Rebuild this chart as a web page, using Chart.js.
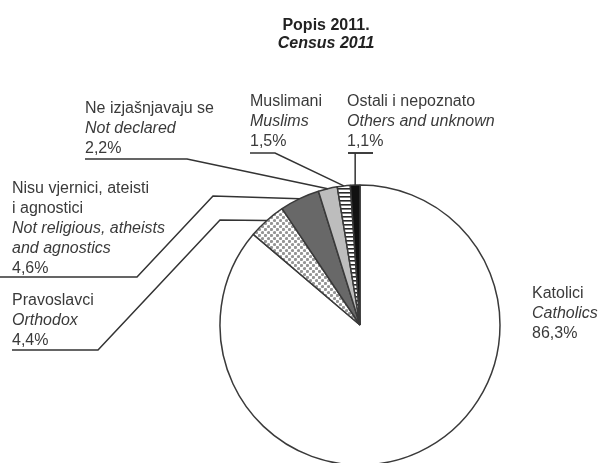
<!DOCTYPE html>
<html>
<head>
<meta charset="utf-8">
<script src="https://cdn.jsdelivr.net/npm/chart.js@4.4.1/dist/chart.umd.min.js"></script>
<style>
  html, body { margin: 0; padding: 0; background: #fff; }
  #wrap { width: 601px; height: 463px; }
</style>
</head>
<body>
<div id="wrap"><canvas id="religion" width="601" height="463"></canvas></div>
<script>
// Popis 2011. / Census 2011 - stanovnistvo prema vjeri
const categories = ['Katolici', 'Pravoslavci', 'Nisu vjernici, ateisti i agnostici', 'Ne izjašnjavaju se', 'Muslimani', 'Ostali i nepoznato'];
const shares = [86.3, 4.4, 4.6, 2.2, 1.5, 1.1];
const shareLabels = ['86,3%', '4,4%', '4,6%', '2,2%', '1,5%', '1,1%'];

// label text as it is broken into lines (hr upright, en italic)
const labelsHr = [['Katolici'], ['Pravoslavci'], ['Nisu vjernici, ateisti', 'i agnostici'], ['Ne izjašnjavaju se'], ['Muslimani'], ['Ostali i nepoznato']];
const labelsEn = [['Catholics'], ['Orthodox'], ['Not religious, atheists', 'and agnostics'], ['Not declared'], ['Muslims'], ['Others and unknown']];

const FONT = '"Liberation Sans", Arial, sans-serif';
const TEXT = '#3a3a3a';
const LINE_H = 20;

// where each label block sits and how its leader line bends
const labelLayout = [
  { x: 532, y: 298 },
  { x: 12, y: 305, line: [[12, 350], [98, 350], [220, 220]] },
  { x: 12, y: 193, line: [[0, 277], [137, 277], [213, 196]] },
  { x: 85, y: 113, line: [[85, 159], [187, 159]] },
  { x: 250, y: 106, line: [[250, 153], [275, 153]] },
  { x: 347, y: 106, line: [[348, 153], [373, 153]], drop: true }
];

const canvas = document.getElementById('religion');
const ctx = canvas.getContext('2d');

const makePattern = (w, h, paint) => {
  const c = document.createElement('canvas');
  c.width = w;
  c.height = h;
  const g = c.getContext('2d');
  g.fillStyle = '#fff';
  g.fillRect(0, 0, w, h);
  paint(g);
  return ctx.createPattern(c, 'repeat');
};

const dots = makePattern(6, 6, g => {
  g.fillStyle = '#959595';
  g.beginPath(); g.arc(1.5, 1.5, 1.6, 0, Math.PI * 2); g.fill();
  g.beginPath(); g.arc(4.5, 4.5, 1.6, 0, Math.PI * 2); g.fill();
});

const stripes = makePattern(4, 4, g => {
  g.fillStyle = '#2a2a2a';
  g.fillRect(0, 0, 4, 1.6);
});

const labelPlugin = {
  id: 'labelPlugin',
  afterDraw(chart) {
    const c = chart.ctx;
    const arcs = chart.getDatasetMeta(0).data;
    c.save();

    // title
    c.fillStyle = '#222';
    c.textAlign = 'center';
    c.textBaseline = 'alphabetic';
    c.font = 'bold 16px ' + FONT;
    c.fillText('Popis 2011.', 326, 30);
    c.font = 'italic bold 16px ' + FONT;
    c.fillText('Census 2011', 326, 48);

    c.textAlign = 'left';
    labelLayout.forEach((lay, i) => {
      let y = lay.y;
      c.fillStyle = TEXT;
      c.font = '16px ' + FONT;
      labelsHr[i].forEach(t => { c.fillText(t, lay.x, y); y += LINE_H; });
      c.font = 'italic 16px ' + FONT;
      labelsEn[i].forEach(t => { c.fillText(t, lay.x, y); y += LINE_H; });
      c.font = '16px ' + FONT;
      c.fillText(shareLabels[i], lay.x, y);

      if (!lay.line) return;
      const arc = arcs[i];
      const mid = (arc.startAngle + arc.endAngle) / 2;
      const ex = arc.x + Math.cos(mid) * arc.outerRadius;
      const ey = arc.y + Math.sin(mid) * arc.outerRadius;
      const pts = lay.line.slice();
      if (lay.drop) {
        pts.push([ex, lay.line[0][1]]);
      }
      c.strokeStyle = '#333';
      c.lineWidth = 1.5;
      c.beginPath();
      c.moveTo(pts[0][0], pts[0][1]);
      for (let k = 1; k < pts.length; k++) c.lineTo(pts[k][0], pts[k][1]);
      c.lineTo(ex, ey);
      c.stroke();
      if (lay.drop) {
        c.beginPath();
        c.moveTo(lay.line[0][0], lay.line[0][1]);
        c.lineTo(lay.line[1][0], lay.line[1][1]);
        c.stroke();
      }
    });
    c.restore();
  }
};

new Chart(canvas, {
  type: 'pie',
  data: {
    labels: categories,
    datasets: [{
      data: shares,
      backgroundColor: ['#ffffff', dots, '#686868', '#bdbdbd', stripes, '#111111'],
      borderColor: '#3a3a3a',
      borderWidth: 1.5,
      radius: 140
    }]
  },
  options: {
    responsive: false,
    devicePixelRatio: 1,
    animation: false,
    rotation: 0,
    layout: {
      padding: { left: 220, right: 101, top: 187, bottom: 0 }
    },
    plugins: {
      legend: { display: false },
      tooltip: { enabled: false },
      title: { display: false }
    }
  },
  plugins: [labelPlugin]
});
</script>
</body>
</html>
